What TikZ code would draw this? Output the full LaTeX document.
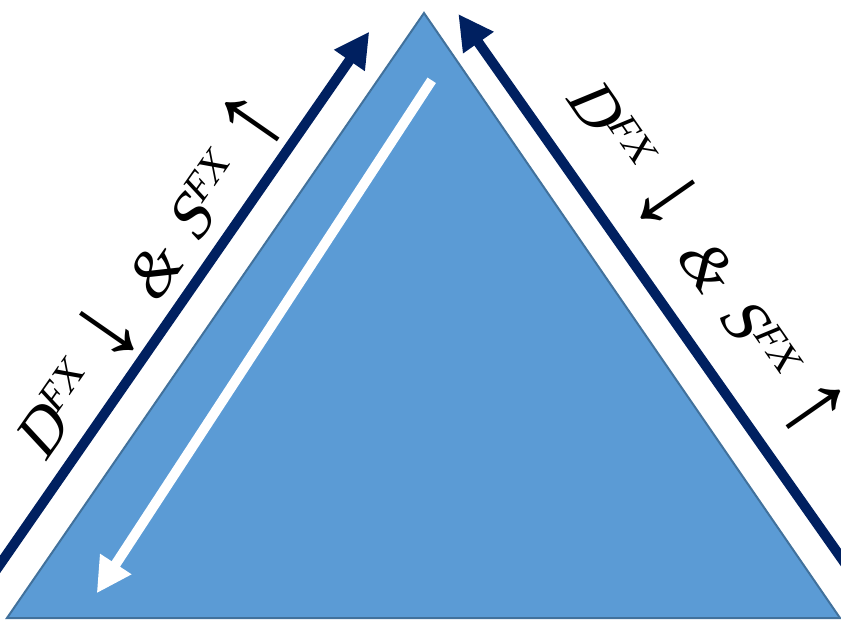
\documentclass[tikz,border=0pt]{standalone}
\usepackage{fontspec}
\setmainfont{Liberation Serif}
\newfontfamily\lblit{Liberation Serif}[FakeSlant=0.22]
\newfontfamily\lblup{Liberation Serif}
\usetikzlibrary{arrows.meta}
\definecolor{trifill}{HTML}{5B9BD5}
\definecolor{triedge}{HTML}{41719C}
\definecolor{navyblue}{HTML}{002060}
\newcommand{\fxarrow}[1]{\raisebox{-0.05em}{\scalebox{1.7}{\lblup #1}}}
\newcommand{\fxlabel}{{\lblit D}\raisebox{0.3em}{\fontsize{40}{46}\selectfont\lblit FX}\hspace{0.3em}\fxarrow{↓}\hspace{0.35em}{\lblit \&}\hspace{0.35em}{\lblit S}\raisebox{0.3em}{\fontsize{40}{46}\selectfont\lblit FX}\hspace{0.3em}\fxarrow{↑}}
\begin{document}
\begin{tikzpicture}[x=1pt,y=-1pt,
  navyarrow/.style={draw=navyblue,line width=10pt,-{Triangle[length=35pt,width=35pt]}},
  whitearrow/.style={draw=white,line width=10pt,-{Triangle[length=35pt,width=35pt]}},
  lbl/.style={font=\fontsize{64}{72}\selectfont, inner sep=0pt, anchor=base}]
\useasboundingbox (0,0) rectangle (841,624);
\coordinate (A) at (424,13);
\coordinate (B) at (7,618);
\coordinate (C) at (840,618);
\filldraw[fill=trifill,draw=triedge,line width=2pt,line join=miter] (B) -- (A) -- (C) -- cycle;
% navy arrows
\coordinate (l0) at (-8,575.9);
\coordinate (l1) at (369.3,31.7);
\draw[navyarrow] (l0) -- (l1);
\coordinate (r0) at (850,570.4);
\coordinate (r1) at (458.3,14);
\draw[navyarrow] (r0) -- (r1);
% white arrow
\coordinate (w0) at (431.7,80.3);
\coordinate (w1) at (96.7,593.3);
\draw[whitearrow] (w0) -- (w1);
% labels
\node[lbl, rotate=55.2] (ll) at (167.4,289.1) {\fxlabel};
\node[lbl, rotate=-55.1] (rl) at (686,272) {\fxlabel};
\end{tikzpicture}
\end{document}
